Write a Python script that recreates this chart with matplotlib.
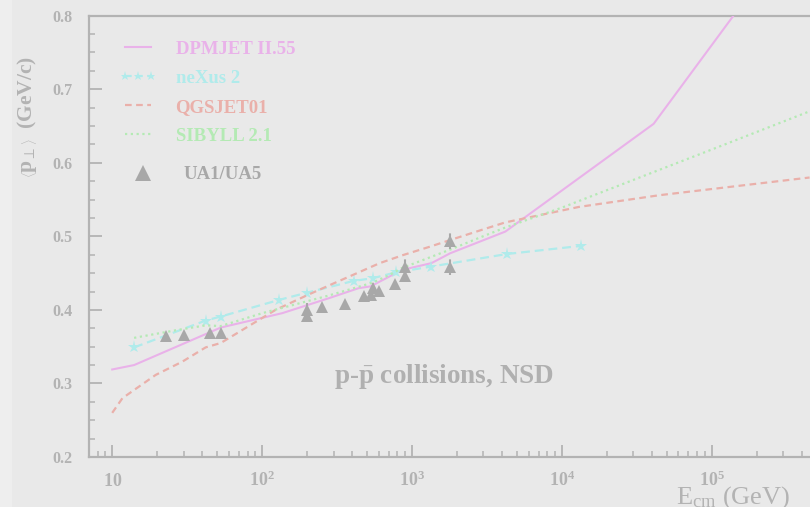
import numpy as np
import matplotlib
matplotlib.use("Agg")
import matplotlib.pyplot as plt
from matplotlib.lines import Line2D
from matplotlib.patches import Rectangle

plt.rcParams['font.family'] = ['Liberation Serif', 'DejaVu Serif']
plt.rcParams['mathtext.fontset'] = 'custom'
plt.rcParams['mathtext.rm'] = 'Liberation Serif'
plt.rcParams['mathtext.bf'] = 'Liberation Serif:bold'
plt.rcParams['mathtext.it'] = 'Liberation Serif:italic'

# model curves: <pT> vs sqrt(s)
dpmjet_e = [10, 14, 53, 136, 280, 440, 530, 860, 1350, 1800, 4200, 41000, 200000]
dpmjet_pt = [0.319, 0.325, 0.376, 0.3955, 0.416, 0.4295, 0.432, 0.4544, 0.4636, 0.477, 0.5065, 0.653, 0.843]

nexus_e = [14, 42, 53, 130, 200, 410, 546, 780, 1350, 4300, 13400]
nexus_pt = [0.349, 0.3855, 0.391, 0.4136, 0.4235, 0.4395, 0.443, 0.451, 0.459, 0.476, 0.487]

qgsjet_e = [10, 11.7, 19.5, 29.4, 42, 53, 123, 200, 300, 430, 610, 880, 1320, 1800, 2840, 4200, 13000, 45000, 450000]
qgsjet_pt = [0.260, 0.280, 0.3116, 0.3297, 0.349, 0.355, 0.400, 0.420, 0.436, 0.450, 0.4636, 0.4748, 0.486, 0.495, 0.508, 0.519, 0.540, 0.556, 0.580]

sibyll_e = [14, 26, 42, 53, 100, 278, 546, 700, 860, 1800, 2770, 4200, 10000, 100000, 450000]
sibyll_pt = [0.362, 0.372, 0.379, 0.378, 0.3955, 0.4195, 0.437, 0.447, 0.457, 0.482, 0.4975, 0.512, 0.539, 0.618, 0.670]

# UA1/UA5 measurements
data_e = [23, 30, 45, 53, 200, 200, 250, 360, 480, 530, 546, 600, 770, 900, 900, 1800, 1800]
data_pt = [0.364, 0.366, 0.368, 0.368, 0.392, 0.400, 0.404, 0.408, 0.419, 0.420, 0.4295, 0.426, 0.435, 0.446, 0.459, 0.494, 0.459]
data_err = [0, 0, 0, 0, 0, 0.009, 0, 0, 0, 0, 0.007, 0, 0, 0, 0.012, 0.011, 0.011]

xtick_vals = [10, 100, 1000, 10000, 100000]
xtick_text = [r'$\mathbf{10}$', r'$\mathbf{10^{2}}$', r'$\mathbf{10^{3}}$',
              r'$\mathbf{10^{4}}$', r'$\mathbf{10^{5}}$']
ytick_vals = [0.2, 0.3, 0.4, 0.5, 0.6, 0.7, 0.8]

bg = '#e9e9e9'
grey = '#b3b3b3'
c_dpm = '#e9b2e9'
c_nex = '#b0ebeb'
c_qgs = '#eab0aa'
c_sib = '#b4eab4'
c_dat = '#a8a8a8'

fig = plt.figure(figsize=(8.1, 5.07), dpi=100)
fig.patch.set_facecolor(bg)
fig.patches.append(Rectangle((0, 0), 12 / 810, 1, transform=fig.transFigure,
                             facecolor='#eeeeee', edgecolor='none', zorder=0))

ax = fig.add_axes([89 / 810, 1 - 457 / 507, 1 - 89 / 810, (457 - 15.7) / 507])
ax.set_facecolor(bg)
ax.set_xscale('log')
ax.set_xlim(7.0, 4.53e5)
ax.set_ylim(0.2, 0.8)

ax.plot(dpmjet_e, dpmjet_pt, color=c_dpm, lw=1.5, zorder=3)
ax.plot(nexus_e, nexus_pt, color=c_nex, lw=1.6, ls=(0, (4, 2.2)),
        marker='*', ms=9.5, mew=0, zorder=3)
ax.plot(qgsjet_e, qgsjet_pt, color=c_qgs, lw=1.6, ls=(0, (3, 2)), zorder=3)
ax.plot(sibyll_e, sibyll_pt, color=c_sib, lw=1.6, ls=(0, (1, 1.6)), zorder=3)

eb = ax.errorbar(data_e, data_pt, yerr=data_err, fmt='none', ecolor=c_dat,
                 elinewidth=1.5, capsize=0, zorder=4)
eb[2][0].set_linestyle((0, (3, 1.5)))
ax.plot(data_e, data_pt, ls='none', marker='^', ms=8, color=c_dat, mew=0, zorder=5)

for side in ['left', 'bottom', 'top']:
    ax.spines[side].set_color(grey)
    ax.spines[side].set_linewidth(1.6)
ax.spines['right'].set_visible(False)

ax.set_xticks(xtick_vals)
ax.set_xticklabels(xtick_text)
ax.set_yticks(ytick_vals)
ax.set_yticklabels(['%.1f' % v for v in ytick_vals])
ax.yaxis.set_minor_locator(matplotlib.ticker.MultipleLocator(0.025))
ax.tick_params(which='both', direction='in', colors=grey, top=False, right=False)
ax.tick_params(which='major', length=9, width=1.3)
ax.tick_params(which='minor', length=4.5, width=1.1)
ax.tick_params(axis='y', pad=12, labelsize=11.5)
ax.tick_params(axis='x', pad=21, labelsize=13)
for lab in ax.get_yticklabels():
    lab.set_fontweight('bold')
for lab in ax.get_xticklabels():
    lab.set_va('baseline')

prop = {'family': 'Liberation Serif', 'weight': 'bold', 'size': 13.5}
handles = [
    Line2D([], [], color=c_dpm, lw=1.5),
    Line2D([], [], color=c_nex, lw=1.6, ls=(0, (3, 2)), marker='*', ms=6.5, mew=0),
    Line2D([], [], color=c_qgs, lw=1.6, ls=(0, (3, 2))),
    Line2D([], [], color=c_sib, lw=1.6, ls=(0, (1, 1.6))),
]
names = ['DPMJET II.55', 'neXus 2', 'QGSJET01', 'SIBYLL 2.1']
leg = ax.legend(handles, names, loc='upper left', bbox_to_anchor=(0.042, 0.944),
                frameon=False, prop=prop, labelcolor=[c_dpm, c_nex, c_qgs, c_sib],
                handlelength=2.0, handletextpad=1.0, labelspacing=0.64,
                borderpad=0, borderaxespad=0, numpoints=3)
ax.add_artist(leg)
ax.legend([Line2D([], [], ls='none', marker='^', ms=11, color=c_dat, mew=0)],
          ['UA1/UA5'], loc='upper left', bbox_to_anchor=(0.042, 0.659),
          frameon=False, prop=prop, labelcolor=[c_dat],
          handlelength=2.5, handletextpad=0.9, borderpad=0, borderaxespad=0,
          numpoints=1)

fig.text(334 / 810, 1 - 376.7 / 507, r'p-$\bar{\mathbf{p}}$ collisions, NSD',
         ha='left', va='center', fontsize=19.5, fontweight='bold', color='#b0b0b0')
fig.text(790 / 810, 1 - 503.5 / 507, r'E$_{\rm cm}$ (GeV)', ha='right',
         va='baseline', fontsize=19, color='#b3b3b3')
fig.text(27 / 810, 1 - 117 / 507,
         r'$\left\langle \mathbf{p}_{\perp} \right\rangle$  (GeV/c)',
         rotation=90, ha='center', va='center', fontsize=15.5, fontweight='bold',
         color='#b3b3b3')

fig.savefig('out.png', dpi=100, facecolor=bg)
